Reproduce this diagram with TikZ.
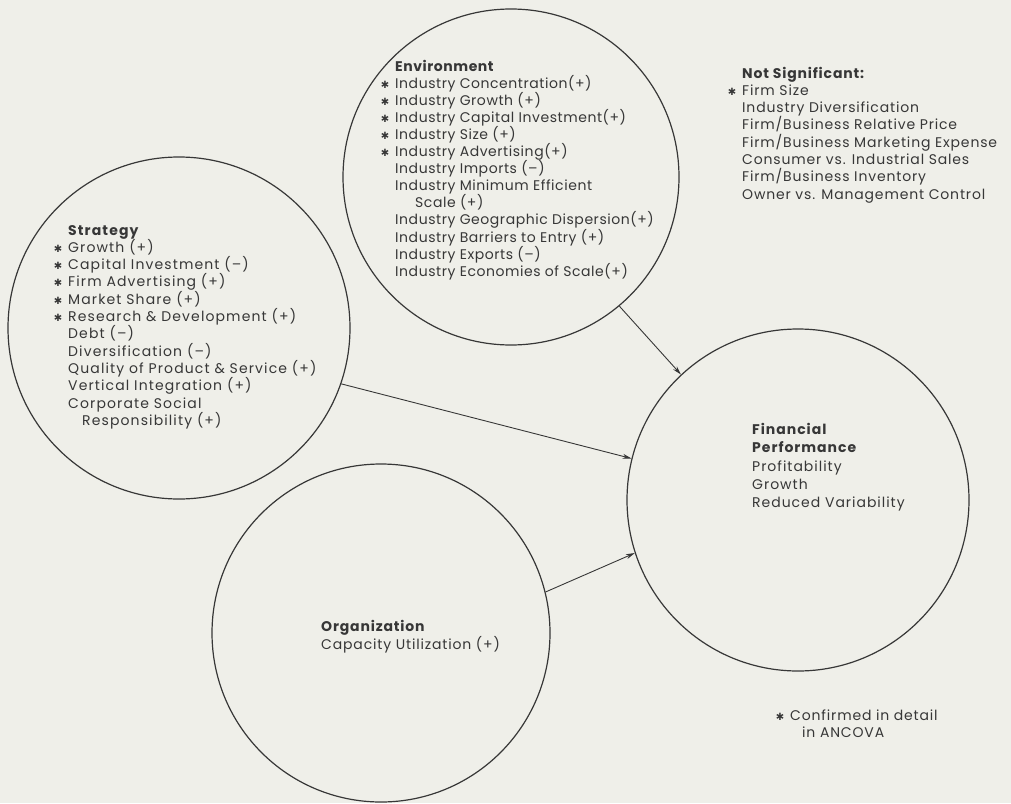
\documentclass[tikz,border=0pt]{standalone}
\usepackage{fontspec}
\setmainfont{Poppins}
\newfontfamily\djv{DejaVu Sans}
\usetikzlibrary{arrows.meta}
\definecolor{bg}{RGB}{239,239,233}
\definecolor{ink}{RGB}{55,55,55}
\newcommand\mystar{\makebox[0pt][r]{{\djv\fontsize{10}{10}\selectfont ✱}\hspace{6pt}}}
\newcommand\ls[1]{\fontsize{14}{16}\selectfont\addfontfeature{LetterSpace=#1}}
\tikzset{
 x=1pt,y=-1pt,
 bubble/.style={circle,draw=ink,line width=1.2pt,inner sep=0pt},
 txt/.style={anchor=base west,inner sep=0pt,text=ink},
 envt/.style={txt,font=\ls{4}},
 strt/.style={txt,font=\ls{8}},
 nst/.style={txt,font=\ls{6}},
 fpt/.style={txt,font=\ls{7}},
 orgt/.style={txt,font=\ls{6}},
 link/.style={draw=ink,line width=0.9pt,-{Stealth[length=9pt,width=5pt]}},
}
\begin{document}
\begin{tikzpicture}
\fill[bg] (0,0) rectangle (1011,803);
\useasboundingbox (0,0) rectangle (1011,803);
% circles
\node[bubble,minimum size=336pt] (env) at (511,177) {};
\node[bubble,minimum size=342pt] (str) at (179,328) {};
\node[bubble,minimum size=338pt] (org) at (381,633) {};
\node[bubble,minimum size=342pt] (fp) at (798,500) {};
% connectors
\draw[link] (env.-50) -- (fp.133);
\draw[link] (str.-19) -- (fp.166);
\draw[link] (org.14) -- (fp.198);
% Environment text
\node[envt] (envh) at (395,71) {\bfseries Environment};
\foreach \t [count=\i] in {
 {\mystar Industry Concentration(+)},
 {\mystar Industry Growth (+)},
 {\mystar Industry Capital Investment(+)},
 {\mystar Industry Size (+)},
 {\mystar Industry Advertising(+)},
 {Industry Imports (--)},
 {Industry Minimum Efficient},
 {\hspace*{20pt}Scale (+)},
 {Industry Geographic Dispersion(+)},
 {Industry Barriers to Entry (+)},
 {Industry Exports (--)},
 {Industry Economies of Scale(+)}}
 {\node[envt] (env-\i) at (395,71+17.1*\i) {\t};}
% Strategy text
\node[strt] (strh) at (68,235) {\bfseries Strategy};
\foreach \t [count=\i] in {
 {\mystar Growth (+)},
 {\mystar Capital Investment (--)},
 {\mystar Firm Advertising (+)},
 {\mystar Market Share (+)},
 {\mystar Research \& Development (+)},
 {Debt (--)},
 {Diversification (--)},
 {Quality of Product \& Service (+)},
 {Vertical Integration (+)},
 {Corporate Social},
 {\hspace*{14pt}Responsibility (+)}}
 {\node[strt] (str-\i) at (68,235+17.3*\i) {\t};}
% Not significant
\node[nst] (nsh) at (742,78) {\bfseries Not Significant:};
\foreach \t [count=\i] in {
 {\mystar Firm Size},
 {Industry Diversification},
 {Firm/Business Relative Price},
 {Firm/Business Marketing Expense},
 {Consumer vs. Industrial Sales},
 {Firm/Business Inventory},
 {Owner vs. Management Control}}
 {\node[nst] (ns-\i) at (742,78+17.3*\i) {\t};}
% Financial performance
\node[fpt] (fph1) at (752,434) {\bfseries Financial};
\node[fpt] (fph2) at (752,452) {\bfseries Performance};
\node[fpt] (fp-1) at (752,471) {Profitability};
\node[fpt] (fp-2) at (752,489) {Growth};
\node[fpt] (fp-3) at (752,507) {Reduced Variability};
% Organization
\node[orgt] (orgh) at (321,631) {\bfseries Organization};
\node[orgt] (org-1) at (321,649) {Capacity Utilization (+)};
% note
\node[orgt] (note-1) at (790,720) {\mystar Confirmed in detail};
\node[orgt] (note-2) at (802,737) {in ANCOVA};
\end{tikzpicture}
\end{document}
